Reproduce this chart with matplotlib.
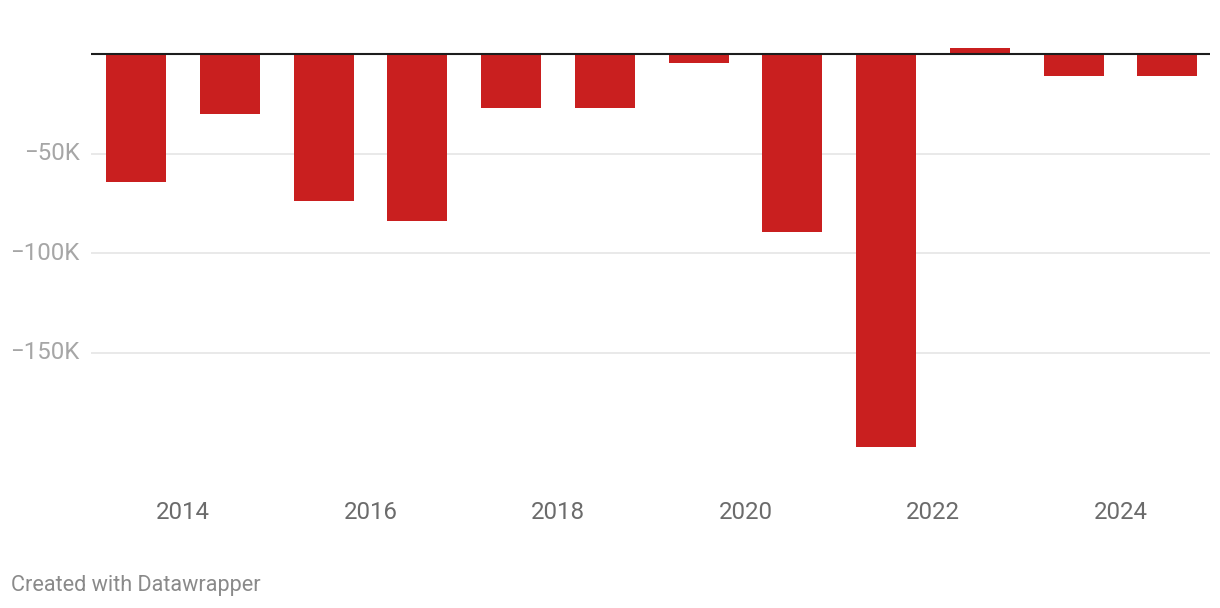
import matplotlib
matplotlib.use("Agg")
import matplotlib.pyplot as plt
from matplotlib.ticker import FuncFormatter

years = [2013, 2014, 2015, 2016, 2017, 2018, 2019, 2020, 2021, 2022, 2023, 2024]
values = [-64500, -30000, -74000, -84000, -27000, -27000, -4500, -89500, -197500, 3000, -11000, -11000]
ytick_vals = [-150000, -100000, -50000]
xtick_years = [2014, 2016, 2018, 2020, 2022, 2024]

plt.rcParams['font.family'] = ['Roboto', 'DejaVu Sans']

W, H = 1220, 608
fig = plt.figure(figsize=(W / 100, H / 100), dpi=100)
ax_left, ax_right = 91, 1210
ax_top, ax_bot = 40, 480
ax = fig.add_axes([ax_left / W, 1 - ax_bot / H, (ax_right - ax_left) / W, (ax_bot - ax_top) / H])

px_per_k = 1.99
zero_y = 54
ax.set_ylim(-(ax_bot - zero_y) / px_per_k * 1000, (zero_y - ax_top) / px_per_k * 1000)
ax.set_xlim(2013.02, 2024.955)

xs = [y + 0.5 for y in years]
ax.bar(xs, values, width=0.64, color='#c91f1f', zorder=3)

ax.axhline(0, color='#1d1d1d', lw=1.5, zorder=4)
for v in ytick_vals:
    ax.axhline(v, color='#e5e5e5', lw=1.2, zorder=1)

ax.set_yticks(ytick_vals)
ax.yaxis.set_major_formatter(FuncFormatter(lambda v, p: '\u2212%dK' % (abs(v) / 1000)))
ax.tick_params(axis='y', length=0, pad=8, labelsize=17.3, labelcolor='#a6a6a6')
ax.set_xticks(xtick_years)
ax.set_xticklabels([str(y) for y in xtick_years])
ax.tick_params(axis='x', length=0, pad=15, labelsize=17.3, labelcolor='#6b6b6b')
for lbl in ax.get_yticklabels():
    lbl.set_verticalalignment('center')

for s in ax.spines.values():
    s.set_visible(False)

fig.text(11 / W, 1 - 586 / H, 'Created with Datawrapper', fontsize=15.6, color='#8a8a8a',
         ha='left', va='center')

fig.savefig('out.png', dpi=100, facecolor='white')
